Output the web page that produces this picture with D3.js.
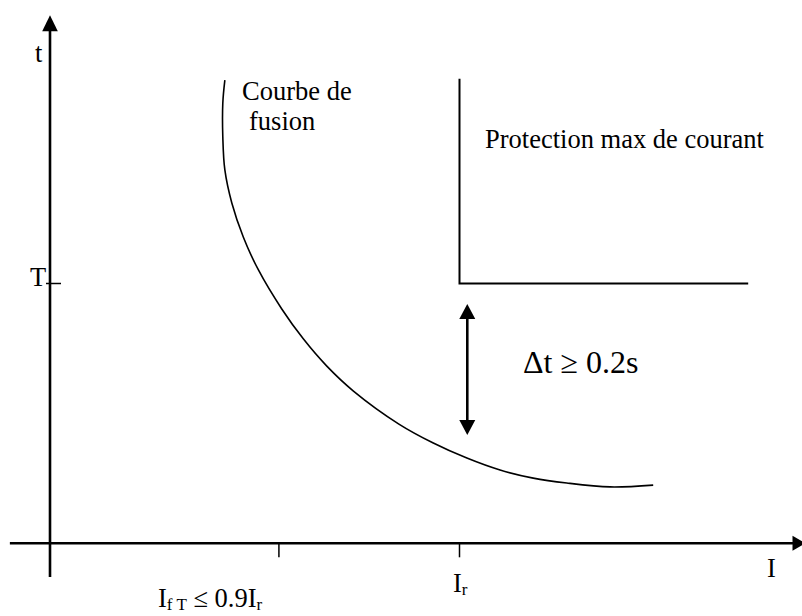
<!DOCTYPE html>
<html lang="fr">
<head>
  <meta charset="UTF-8">
  <title>Courbe de fusion / protection</title>
  <style>
    body, html { margin: 0; padding: 0; background: #fff; }
    svg text { font-family: "Liberation Serif", "Times New Roman", serif; fill: #000; }
  </style>
</head>
<body>
  <svg id="svg" width="802" height="616"></svg>

  <script src="https://cdnjs.cloudflare.com/ajax/libs/d3/7.8.5/d3.min.js"></script>
  <script>
    // values (I in units of Ir, t in units of T)
    const fusionI = [0.427, 0.422, 0.422, 0.427, 0.444, 0.472, 0.509, 0.566, 0.619, 0.676,
                     0.741, 0.852, 0.936, 1.018, 1.099, 1.180, 1.262, 1.368, 1.473]
    const fusionT = [1.783, 1.695, 1.564, 1.437, 1.310, 1.179, 1.052, 0.902, 0.786, 0.682,
                     0.586, 0.459, 0.386, 0.328, 0.282, 0.251, 0.232, 0.217, 0.224]

    const protectionI = [1, 1, 1.705]
    const protectionT = [1.788, 1, 1]

    const deltaI = 1.019
    const deltaT = [0.921, 0.417]

    const xTicks = [0.559, 1]
    const yTicks = [1]

    const xAxisExtent = [-0.098, 1.845]
    const yAxisExtent = [-0.13, 2.033]

    const svg = d3.select('#svg')

    const x = d3.scaleLinear().domain([0, 1]).range([50, 459.5])
    const y = d3.scaleLinear().domain([0, 1]).range([543.3, 283.5])

    // axes
    svg.append('line')
      .attr('x1', x(xAxisExtent[0])).attr('x2', x(xAxisExtent[1]) - 10)
      .attr('y1', y(0)).attr('y2', y(0))
      .attr('stroke', '#000').attr('stroke-width', 2.6)
    svg.append('line')
      .attr('x1', x(0)).attr('x2', x(0))
      .attr('y1', y(yAxisExtent[0])).attr('y2', y(yAxisExtent[1]) + 10)
      .attr('stroke', '#000').attr('stroke-width', 2.6)

    // arrow heads
    const xt = x(xAxisExtent[1]), yt = y(yAxisExtent[1])
    svg.append('path')
      .attr('d', `M${xt},${y(0)} L${xt - 13},${y(0) - 7.5} L${xt - 13},${y(0) + 7.5} Z`)
      .attr('fill', '#000')
    svg.append('path')
      .attr('d', `M${x(0)},${yt} L${x(0) - 7.8},${yt + 16} L${x(0) + 7.8},${yt + 16} Z`)
      .attr('fill', '#000')

    // ticks
    svg.selectAll('.xtick').data(xTicks).join('line')
      .attr('class', 'xtick')
      .attr('x1', d => x(d)).attr('x2', d => x(d))
      .attr('y1', y(0)).attr('y2', y(0) + 14)
      .attr('stroke', '#000').attr('stroke-width', 1.5)
    svg.selectAll('.ytick').data(yTicks).join('line')
      .attr('class', 'ytick')
      .attr('x1', x(0) - 4).attr('x2', x(0) + 11)
      .attr('y1', d => y(d)).attr('y2', d => y(d))
      .attr('stroke', '#000').attr('stroke-width', 1.5)

    // fusion curve
    const fusion = fusionI.map((v, i) => [v, fusionT[i]])
    const line = d3.line()
      .x(d => x(d[0]))
      .y(d => y(d[1]))
      .curve(d3.curveCatmullRom)
    svg.append('path')
      .attr('d', line(fusion))
      .attr('fill', 'none').attr('stroke', '#000').attr('stroke-width', 1.6)

    // protection characteristic
    const protection = protectionI.map((v, i) => [v, protectionT[i]])
    svg.append('path')
      .attr('d', d3.line().x(d => x(d[0])).y(d => y(d[1]))(protection))
      .attr('fill', 'none').attr('stroke', '#000').attr('stroke-width', 2)

    // delta t double arrow
    const dx = x(deltaI), dTop = y(deltaT[0]), dBot = y(deltaT[1])
    svg.append('line')
      .attr('x1', dx).attr('x2', dx)
      .attr('y1', dTop + 10).attr('y2', dBot - 10)
      .attr('stroke', '#000').attr('stroke-width', 2.6)
    svg.append('path')
      .attr('d', `M${dx},${dTop} L${dx - 8},${dTop + 15} L${dx + 8},${dTop + 15} Z`)
      .attr('fill', '#000')
    svg.append('path')
      .attr('d', `M${dx},${dBot} L${dx - 8},${dBot - 15} L${dx + 8},${dBot - 15} Z`)
      .attr('fill', '#000')

    // labels
    const fs = 26.5
    const label = (tx, ty, txt, size) => svg.append('text')
      .attr('x', tx).attr('y', ty).attr('font-size', size || fs).text(txt)

    label(35, 62, 't')
    label(30, 286, 'T')
    label(242, 100, 'Courbe de')
    label(249, 130, 'fusion')
    label(485, 148, 'Protection max de courant')
    label(523, 373, 'Δt ≥ 0.2s', 32)
    label(767, 577, 'I')

    const ir = svg.append('text').attr('x', 453).attr('y', 592).attr('font-size', fs)
    ir.append('tspan').text('I')
    ir.append('tspan').attr('font-size', 17).attr('dy', 3).text('r')

    const ift = svg.append('text').attr('x', 158).attr('y', 607).attr('font-size', fs)
    ift.append('tspan').text('I')
    ift.append('tspan').attr('font-size', 17).attr('dy', 3).text('f T')
    ift.append('tspan').attr('dy', -3).text(' ≤ 0.9I')
    ift.append('tspan').attr('font-size', 17).attr('dy', 3).text('r')
  </script>
</body>
</html>
